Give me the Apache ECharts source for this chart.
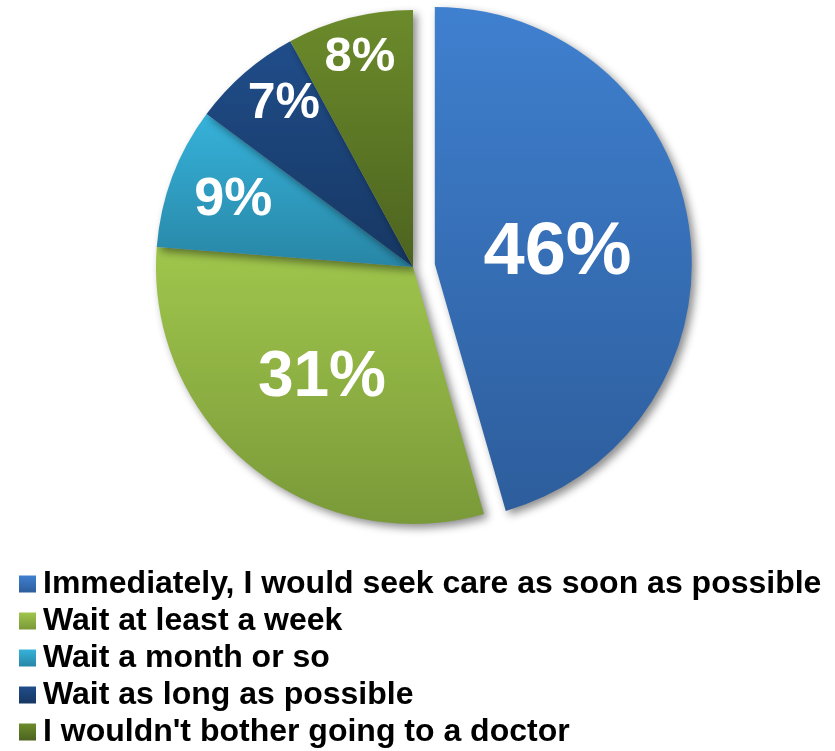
<!DOCTYPE html>
<html>
<head>
<meta charset="utf-8">
<script src="https://cdn.jsdelivr.net/npm/echarts@6/dist/echarts.min.js"></script>
<style>
  html, body { margin: 0; padding: 0; background: #ffffff; }
  #chart { width: 835px; height: 751px; }
</style>
</head>
<body>
<div id="chart"></div>
<script>
// Survey answers and their shares (percent)
const categories = [
  "Immediately, I would seek care as soon as possible",
  "Wait at least a week",
  "Wait a month or so",
  "Wait as long as possible",
  "I wouldn't bother going to a doctor"
];
const shares = [46, 31, 9, 7, 8];

// Top/bottom gradient colours for each slice
const sliceColors = [
  ["#3f80cf", "#2d5d9c"],
  ["#a0c64c", "#7a9939"],
  ["#36b2da", "#2886a6"],
  ["#204d8a", "#163762"],
  ["#6c8b2b", "#4c631f"]
];
// Per-slice label font size, radial distance from the pie centre and fine nudge
const labelSizes = [74, 64, 54, 50, 49];
const labelDistances = [124, 144, 192, 212, 216];
const labelNudge = [[0, 7], [0, 0], [0, 0], [10, -3], [0, 0]];

const CENTER = [413, 267];
const RADIUS = 257;

const chart = echarts.init(document.getElementById("chart"));

const data = categories.map((name, i) => ({
  name: name,
  value: shares[i],
  selected: i === 0,
  itemStyle: {
    color: {
      type: "linear", x: 0, y: 0, x2: 0, y2: 1,
      colorStops: [
        { offset: 0, color: sliceColors[i][0] },
        { offset: 1, color: sliceColors[i][1] }
      ]
    }
  },
  label: { fontSize: labelSizes[i] }
}));

chart.setOption({
  backgroundColor: "#ffffff",
  animation: false,
  legend: {
    orient: "vertical",
    left: 19,
    top: 568,
    height: 200,
    padding: 0,
    icon: "rect",
    itemWidth: 17,
    itemHeight: 17,
    itemGap: 5,
    selectedMode: false,
    textStyle: {
      fontFamily: "Liberation Sans, Arial, sans-serif",
      fontWeight: "bold",
      fontSize: 32,
      color: "#000000",
      padding: [0, 0, 0, 2]
    }
  },
  series: [{
    type: "pie",
    center: CENTER,
    radius: [0, RADIUS],
    startAngle: 90,
    clockwise: true,
    selectedMode: "single",
    selectedOffset: 22,
    avoidLabelOverlap: false,
    itemStyle: {
      shadowBlur: 9,
      shadowColor: "rgba(0,0,0,0.45)",
      shadowOffsetX: 4,
      shadowOffsetY: 4
    },
    label: {
      show: true,
      position: "inside",
      formatter: p => p.value + "%",
      color: "#ffffff",
      fontFamily: "Liberation Sans, Arial, sans-serif",
      fontWeight: "bold"
    },
    labelLine: { show: false },
    emphasis: { disabled: true },
    labelLayout: function (params) {
      const r = params.labelRect;
      const lx = r.x + r.width / 2;
      const ly = r.y + r.height / 2;
      const vx = lx - CENTER[0];
      const vy = ly - CENTER[1];
      const len = Math.sqrt(vx * vx + vy * vy) || 1;
      const d = labelDistances[params.dataIndex];
      const n = labelNudge[params.dataIndex];
      return {
        dx: vx / len * d - vx + n[0],
        dy: vy / len * d - vy + n[1]
      };
    },
    data: data
  }]
});
</script>
</body>
</html>
